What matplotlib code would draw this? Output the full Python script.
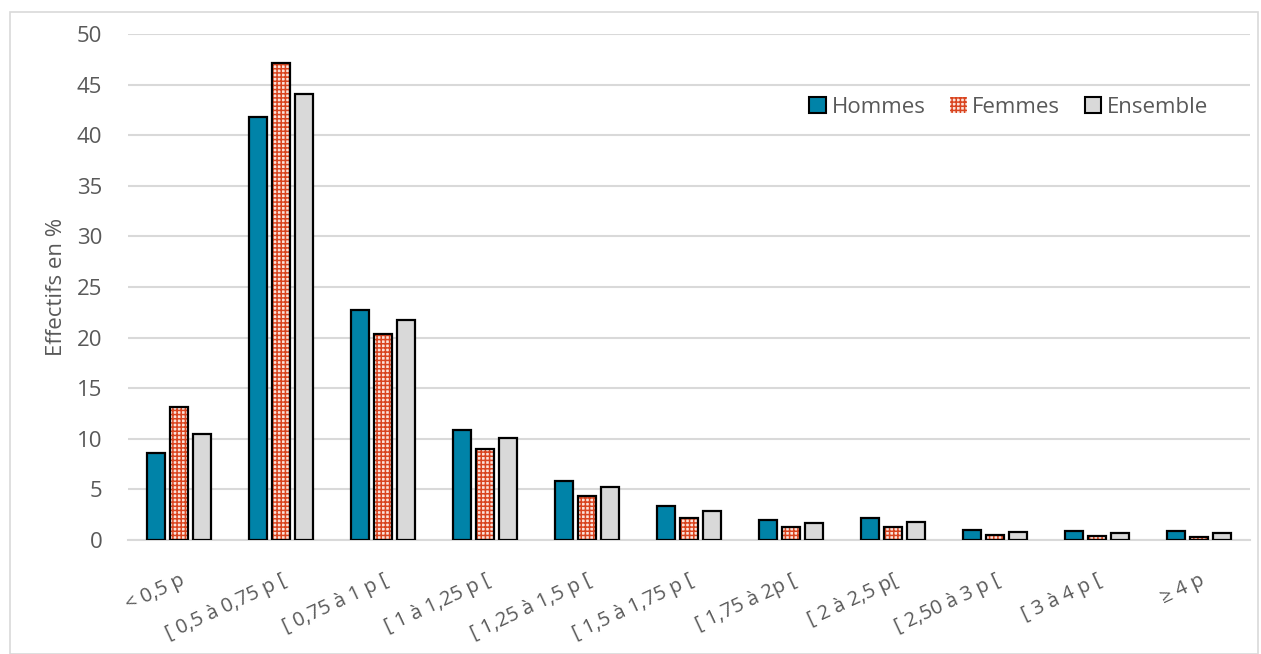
import matplotlib
matplotlib.use("Agg")
import matplotlib.pyplot as plt
import numpy as np
from matplotlib.patches import Rectangle, Patch
import matplotlib.transforms as mtransforms

categories = ["< 0,5 p", "[ 0,5 à 0,75 p [", "[ 0,75 à 1 p [", "[ 1 à 1,25 p [",
              "[ 1,25 à 1,5 p [", "[ 1,5 à 1,75 p [", "[ 1,75 à 2p [", "[ 2 à 2,5 p[",
              "[ 2,50 à 3 p [", "[ 3 à 4 p [", "≥ 4 p"]
hommes = [8.6, 41.8, 22.7, 10.9, 5.8, 3.4, 2.0, 2.2, 1.0, 0.9, 0.9]
femmes = [13.1, 47.1, 20.4, 9.0, 4.3, 2.2, 1.3, 1.3, 0.5, 0.4, 0.3]
ensemble = [10.5, 44.1, 21.7, 10.1, 5.2, 2.9, 1.7, 1.8, 0.8, 0.7, 0.7]
yticks = list(range(0, 51, 5))

plt.rcParams['font.family'] = ['Open Sans', 'DejaVu Sans']
plt.rcParams['hatch.linewidth'] = 1.1

fig = plt.figure(figsize=(12.61, 6.54), dpi=100)
ax = fig.add_axes([128/1261, 1 - 540/654, (1250-128)/1261, (540-34)/654])

x = np.arange(len(categories))
w = 0.176
off = 0.225
c_h = "#0083A8"
c_f = "#D9441F"
c_e = "#D9D9D9"
f_bg = "#FBE3DB"
lw = 1.6

ax.bar(x - off, hommes, w, color=c_h, edgecolor="black", linewidth=lw, zorder=3)
ax.bar(x, femmes, w, color=f_bg, edgecolor=c_f, hatch="++++", linewidth=0, zorder=3)
ax.bar(x, femmes, w, fill=False, edgecolor="black", linewidth=lw, zorder=4)
ax.bar(x + off, ensemble, w, color=c_e, edgecolor="black", linewidth=lw, zorder=3)

ax.set_xlim(-0.5, len(categories) - 0.5)
ax.set_ylim(0, 50)
ax.set_yticks(yticks)
ax.yaxis.grid(True, color="#D9D9D9", linewidth=1.5, zorder=0)
ax.set_axisbelow(True)
for s in ["top", "right", "left"]:
    ax.spines[s].set_visible(False)
ax.spines["bottom"].set_color("#D9D9D9")
ax.spines["bottom"].set_linewidth(1.5)
ax.tick_params(axis="both", length=0, colors="#595959")
ax.tick_params(axis="y", pad=18.5, labelsize=16)
ax.set_xticks(x)
ax.set_xticklabels(categories, rotation=25, ha="right", rotation_mode="anchor")
shift = mtransforms.ScaledTranslation(3/100, 0, fig.dpi_scale_trans)
for lbl in ax.get_xticklabels():
    lbl.set_fontsize(14.5)
    lbl.set_transform(lbl.get_transform() + shift)
ax.tick_params(axis="x", pad=22)
ax.set_ylabel("Effectifs en %", color="#595959", fontsize=16, labelpad=7)

handles = [Patch(facecolor=c_h, edgecolor="black", linewidth=1.5, label="Hommes"),
           Patch(facecolor=f_bg, edgecolor=c_f, hatch="++++", linewidth=0, label="Femmes"),
           Patch(facecolor=c_e, edgecolor="black", linewidth=1.5, label="Ensemble")]
leg = ax.legend(handles=handles, loc="center right", bbox_to_anchor=((1208-128)/1122, (540-107)/506),
                ncol=3, frameon=False, fontsize=16, handlelength=0.75, handleheight=0.75,
                handletextpad=0.25, columnspacing=1.1, labelcolor="#595959",
                borderpad=0, borderaxespad=0)

fig.patches.append(Rectangle((10/1261, 0), (1258-10)/1261, 1 - 12/654, transform=fig.transFigure,
                             fill=False, edgecolor="#D9D9D9", linewidth=1.2))

fig.savefig("out.png", dpi=100)
